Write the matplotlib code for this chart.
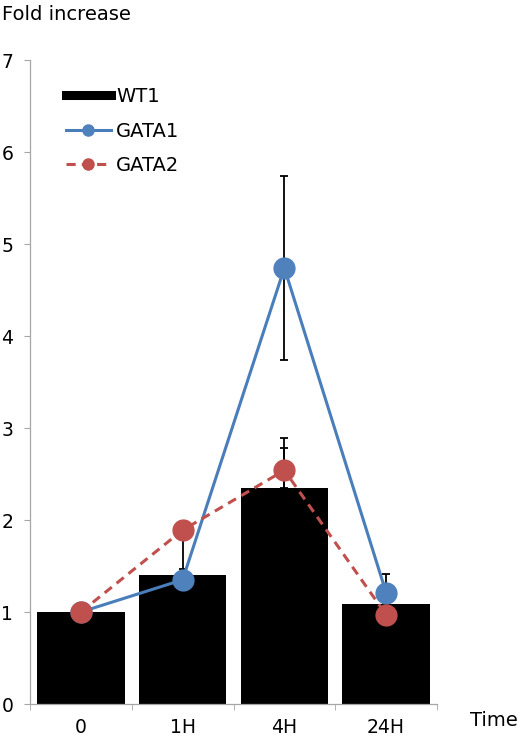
import matplotlib
matplotlib.use("Agg")
import matplotlib.pyplot as plt
from matplotlib.lines import Line2D
import numpy as np

categories = ["0", "1H", "4H", "24H"]
wt1 = [1.00, 1.40, 2.35, 1.09]
wt1_err = [0.10, 0.45, 0.43, 0.0]
gata1 = [1.00, 1.35, 4.74, 1.21]
gata1_err = [0.0, 0.12, 1.00, 0.20]
gata2 = [1.00, 1.89, 2.54, 0.97]
gata2_err = [0.0, 0.0, 0.35, 0.0]
yticks = [0, 1, 2, 3, 4, 5, 6, 7]

blue = "#4A7EBB"
red = "#C0504D"
gray = "#A6A6A6"

fig = plt.figure(figsize=(5.2, 7.37), dpi=100)
ax = fig.add_axes([30/520, 33/737, 407/520, 644/737])
x = np.arange(len(categories))

ax.bar(x, wt1, width=0.86, color="black", zorder=1)
ax.errorbar(x, wt1, yerr=[np.zeros(4), wt1_err], fmt="none", ecolor="black",
            elinewidth=1.3, capsize=3, capthick=1.3, zorder=2)
ax.errorbar(x, gata1, yerr=gata1_err, fmt="none", ecolor="black",
            elinewidth=1.3, capsize=3, capthick=1.3, zorder=2)
ax.errorbar(x, gata2, yerr=gata2_err, fmt="none", ecolor="black",
            elinewidth=1.3, capsize=3, capthick=1.3, zorder=2)
ax.plot(x, gata1, color=blue, lw=2.2, marker="o", ms=15,
        mfc="#4F81BD", mec="#4F81BD", zorder=3)
ax.plot(x, gata2, color=red, lw=2.2, ls=(0, (3, 2)), marker="o", ms=15,
        mfc=red, mec=red, zorder=4)

ax.set_xlim(-0.5, 3.5)
ax.set_ylim(0, 7)
ax.set_yticks(yticks)
ax.set_yticklabels([str(t) for t in yticks])
ax.set_xticks(x)
ax.set_xticklabels(categories)
ax.set_xticks(np.arange(-0.5, 4, 1), minor=True)
ax.tick_params(axis="x", which="major", length=0, pad=10, labelsize=13.5)
ax.tick_params(axis="x", which="minor", length=4, color=gray, direction="out")
ax.tick_params(axis="y", length=4, color=gray, pad=8, labelsize=13.5)
for s in ["top", "right"]:
    ax.spines[s].set_visible(False)
for s in ["left", "bottom"]:
    ax.spines[s].set_color(gray)
    ax.spines[s].set_linewidth(0.9)

handles = [
    Line2D([0], [0], color="black", lw=6.5),
    Line2D([0], [0], color=blue, lw=2.2, marker="o", ms=8, mfc="#4F81BD", mec="#4F81BD"),
    Line2D([0], [0], color=red, lw=2.2, ls=(0, (3, 2)), marker="o", ms=8, mfc=red, mec=red),
]
ax.legend(handles, ["WT1", "GATA1", "GATA2"], loc="upper left",
          bbox_to_anchor=(0.045, 0.985), frameon=False, fontsize=14,
          handlelength=2.3, labelspacing=0.8, handletextpad=0.3)

fig.text(2/520, 1 - 15/737, "Fold increase", fontsize=14, va="center", ha="left")
fig.text(470/520, 1 - 720/737, "Time", fontsize=14, va="center", ha="left")

fig.savefig("out.png", dpi=100)
